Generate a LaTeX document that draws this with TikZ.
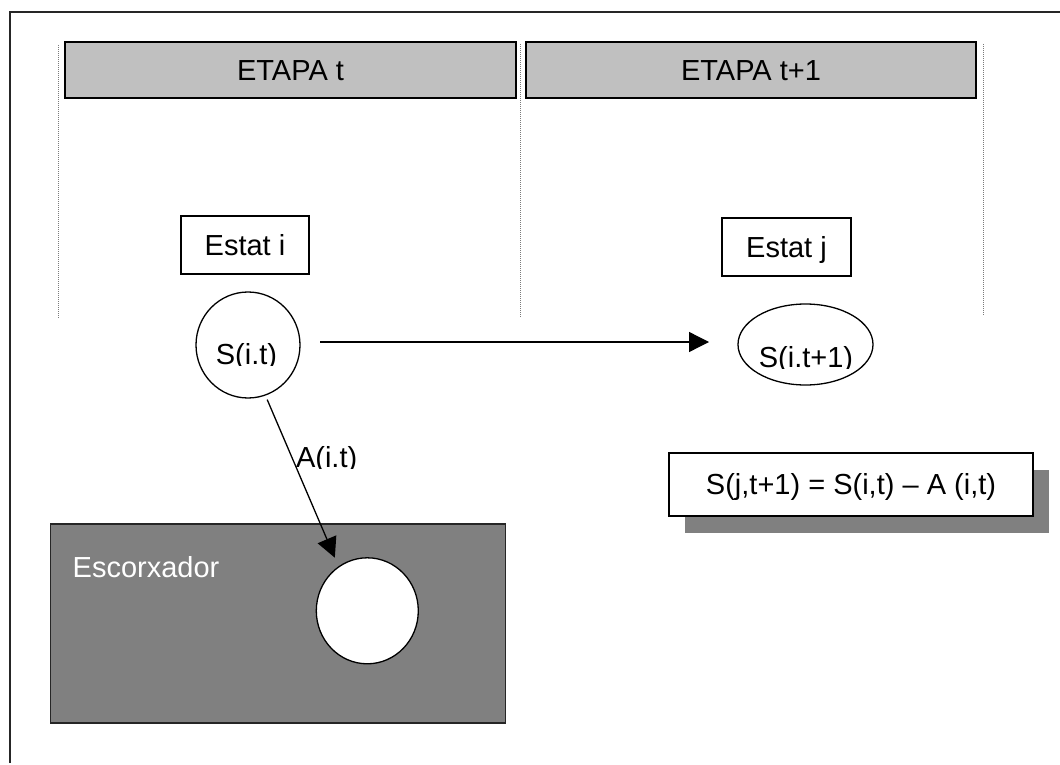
\documentclass[tikz,border=0pt]{standalone}
\usepackage{fontspec}
\setmainfont{Liberation Sans}
\usetikzlibrary{arrows.meta,shapes.geometric,shadows}
\definecolor{hdrgray}{HTML}{C0C0C0}
\definecolor{midgray}{HTML}{808080}
\definecolor{rulegray}{HTML}{7A7A7A}

\begin{document}
\begin{tikzpicture}[x=1pt,y=-1pt,
  every node/.style={font=\fontsize{29}{34}\selectfont, inner sep=0pt, outer sep=0pt},
  capcenter/.style={text height=20.8pt, text depth=0pt},
  stagebox/.style={rectangle, draw=black, line width=1.6pt, fill=hdrgray, capcenter},
  statebox/.style={rectangle, draw=black, line width=1.3pt, fill=white, capcenter},
  stock/.style={ellipse, draw=black, line width=1.3pt, fill=white},
  flow/.style={line width=1.3pt, -{Triangle[length=20pt,width=20pt]}},
  divider/.style={draw=rulegray, line width=1pt, dash pattern=on 1pt off 1pt},
  frameline/.style={line width=1.6pt, draw=black!85},
]
\useasboundingbox (0,0) rectangle (1060,765);

% page frame (top and left edges)
\draw[frameline] (10,763) -- (10,12) -- (1060,12);

% stage dividers
\draw[divider] (58,45) -- (58,318);
\draw[divider] (520.5,44) -- (520.5,318);
\draw[divider] (983,44) -- (983,316);

% stage headers
\node[stagebox, minimum width=451pt, minimum height=56pt] (stage1) at (290.5,70) {ETAPA t};
\node[stagebox, minimum width=450pt, minimum height=56pt] (stage2) at (751,70) {ETAPA t+1};

% states
\node[statebox, minimum width=128pt, minimum height=58pt] (esti) at (245,245) {Estat i};
\node[statebox, minimum width=129pt, minimum height=58pt] (estj) at (786.5,247) {Estat j};

% stocks
\node[stock, minimum width=104pt, minimum height=106pt] (sit) at (248,345) {};
\node[stock, minimum width=135pt, minimum height=81pt] (sit1) at (805.5,344.5) {};
\begin{scope}
  \clip (190,330) rectangle (310,365.5);
  \node[anchor=base] (sitlabel) at (246.5,364.5) {S(i.t)};
\end{scope}
\begin{scope}
  \clip (740,330) rectangle (875,368.5);
  \node[anchor=base] (sit1label) at (806,367.5) {S(i.t+1)};
\end{scope}

% slaughterhouse
\node[rectangle, draw=black!85, line width=1.2pt, fill=midgray,
      minimum width=455pt, minimum height=199pt] (slaughter) at (278.3,623.5) {};
\node[anchor=base west, text=white] (slaughterlabel) at (72.7,577) {Escorxador};
\node[stock, minimum width=102pt, minimum height=106pt] (hole) at (367.3,610.8) {};

% flows
\draw[flow, shorten <=20pt, shorten >=29pt] ([yshift=3pt]sit.east) -- ([yshift=2.5pt]sit1.west);
\draw[flow, shorten <=5pt, shorten >=10pt] (sit.-71) -- (hole.123);
\begin{scope}
  \clip (290,440) rectangle (360,468.5);
  \node[anchor=base west] (alabel) at (296,467.5) {A(i.t)};
\end{scope}

% balance equation
\node[rectangle, draw=black, line width=1.3pt, fill=white, capcenter,
      minimum width=364pt, minimum height=63pt,
      drop shadow={shadow xshift=16pt, shadow yshift=-16.5pt, fill=midgray, opacity=1}]
      (balance) at (851,484.5) {S(j,t+1) = S(i,t) – A (i,t)};
\end{tikzpicture}
\end{document}
